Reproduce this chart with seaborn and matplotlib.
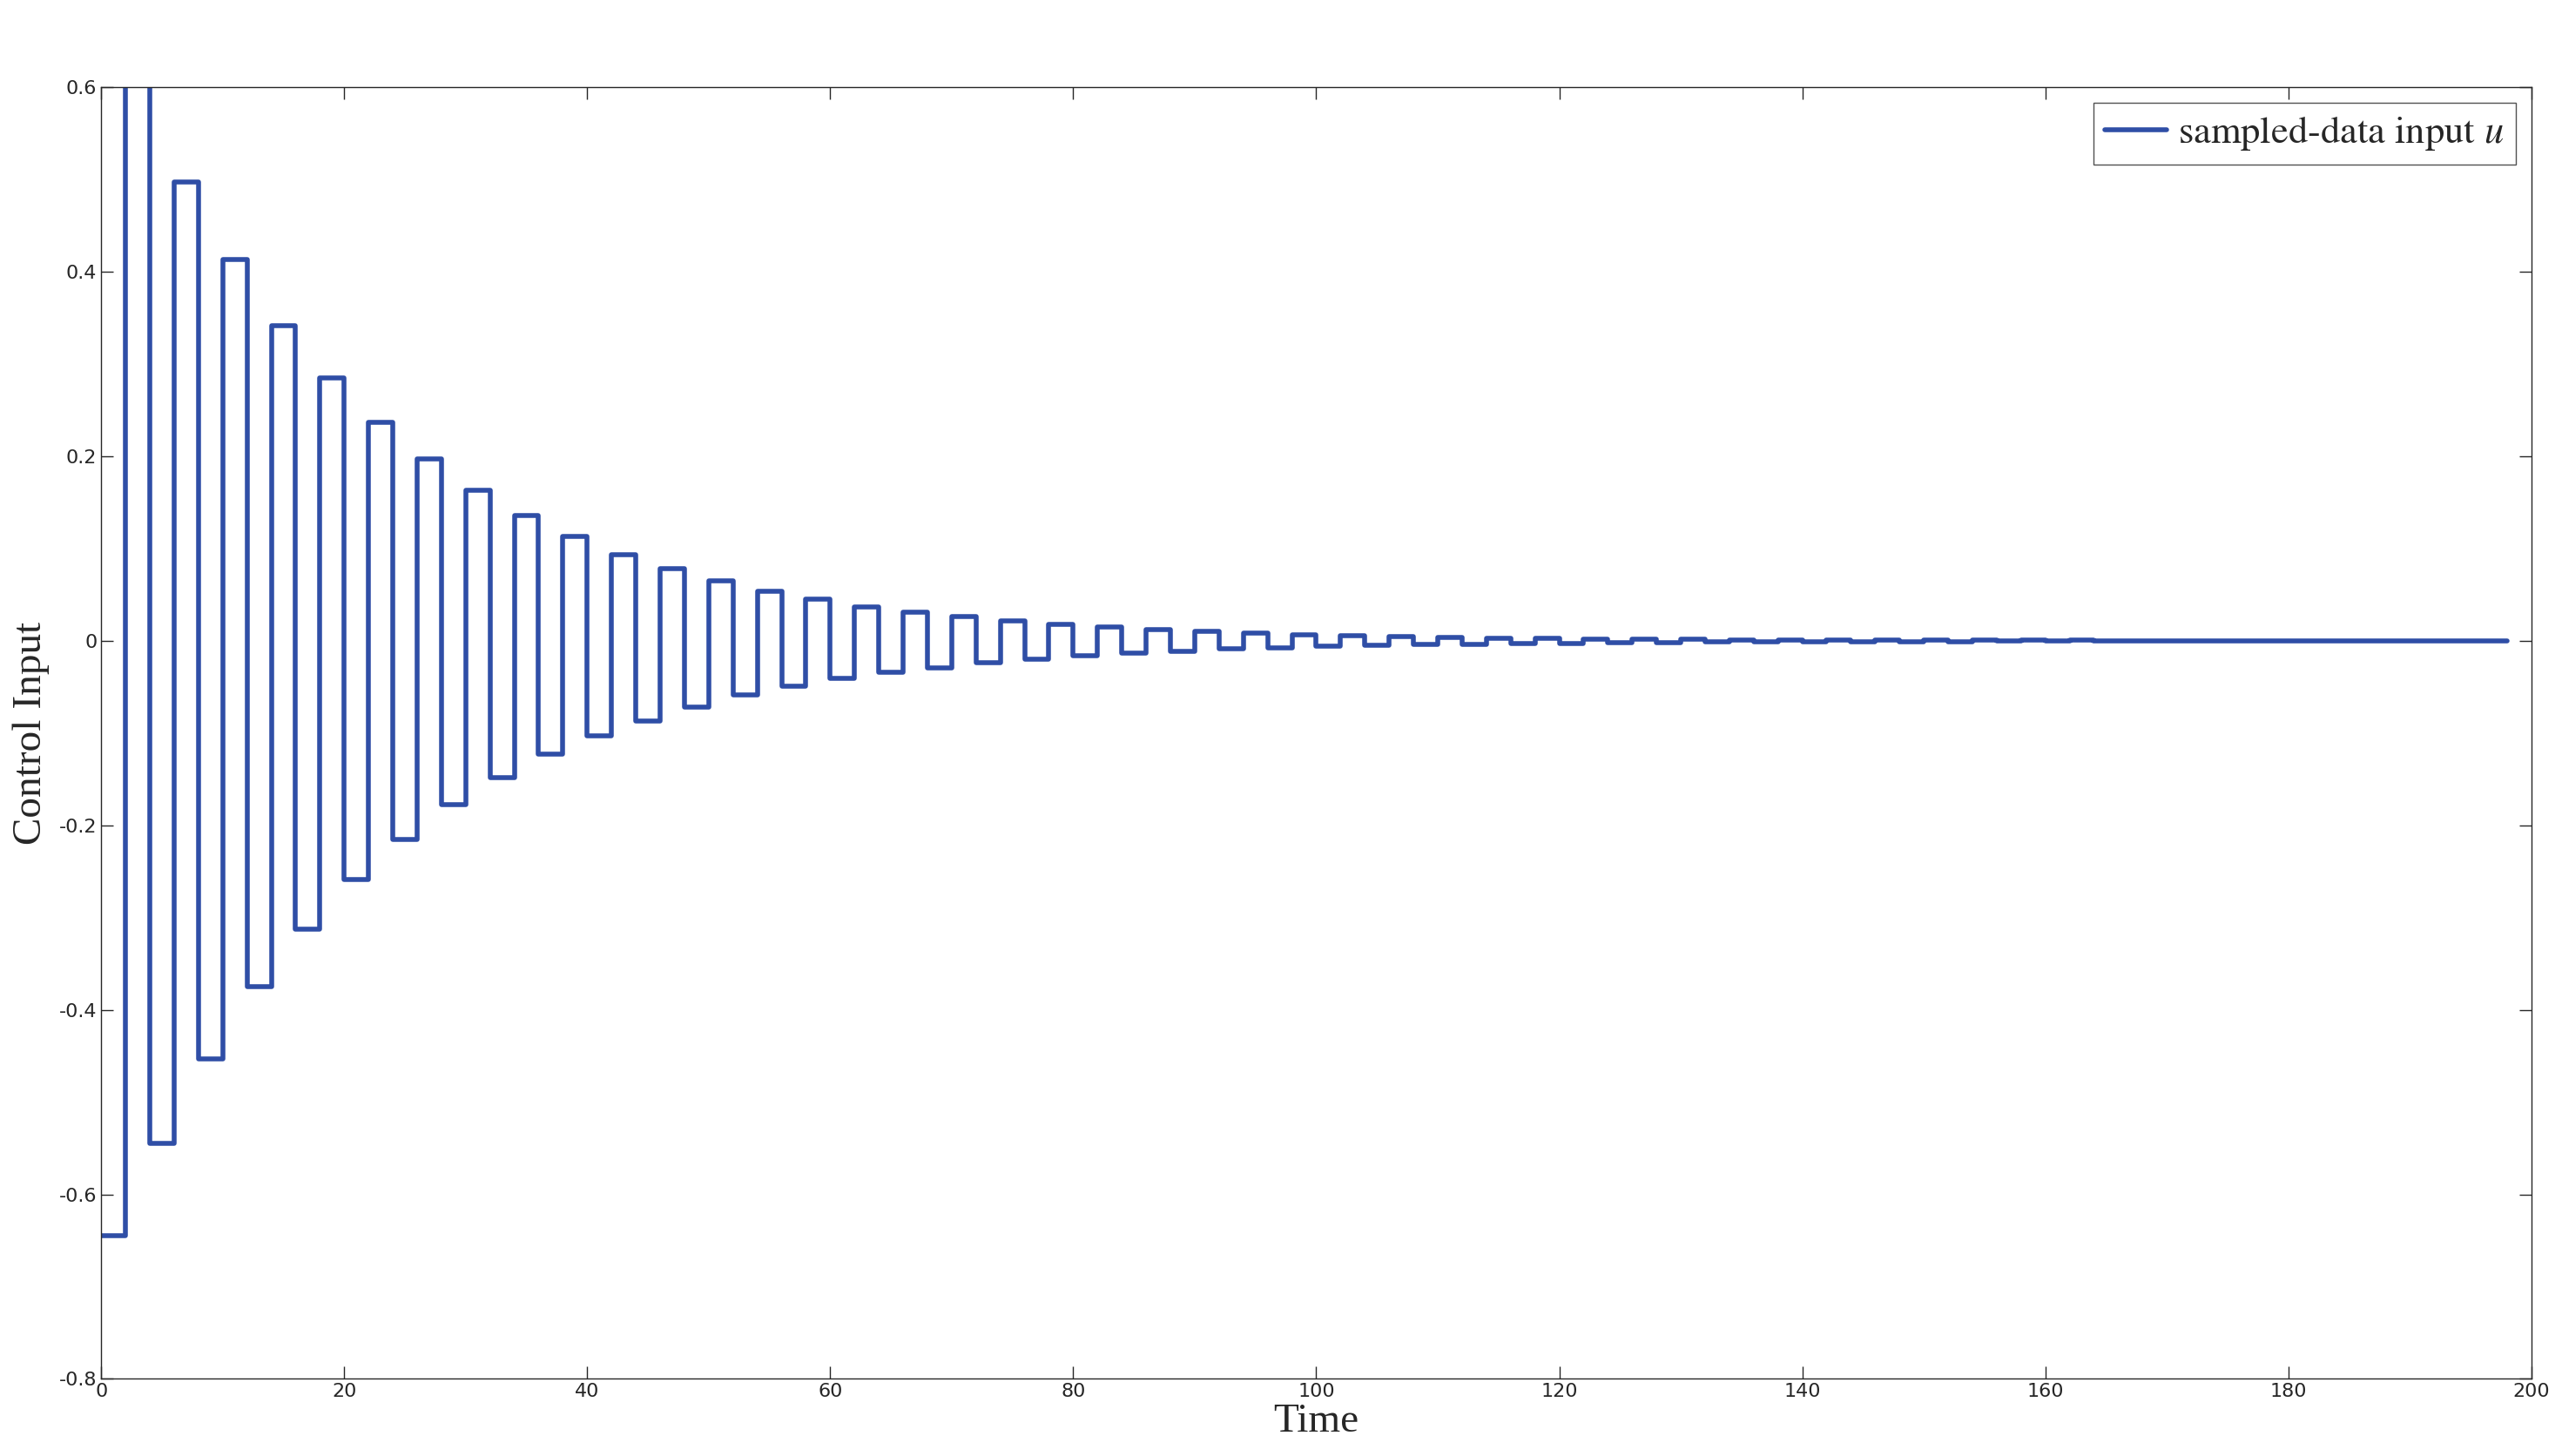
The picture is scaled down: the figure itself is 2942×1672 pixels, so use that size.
import numpy as np
import pandas as pd
import seaborn as sns
import matplotlib.pyplot as plt

# Sample period 2, values alternate sign
neg_vals = [-0.645, -0.545, -0.453, -0.375, -0.313, -0.259, -0.215, -0.178, -0.148, -0.123,
            -0.103, -0.087, -0.072, -0.059, -0.049, -0.041, -0.034, -0.029, -0.024, -0.020,
            -0.016, -0.013, -0.011, -0.009, -0.0075, -0.0062, -0.0052, -0.0043, -0.0036, -0.0030,
            -0.0025, -0.0021, -0.0017, -0.0014, -0.0012, -0.0010, -0.0008, -0.0007, -0.0006, -0.0005,
            -0.0004, -0.0003, -0.0003, -0.0002, -0.0002, -0.0001, -0.0001, -0.0001, -0.0001, 0.0]
pos_vals = [0.602, 0.497, 0.413, 0.342, 0.285, 0.237, 0.197, 0.163, 0.136, 0.113,
            0.093, 0.078, 0.065, 0.054, 0.045, 0.037, 0.031, 0.026, 0.022, 0.018,
            0.015, 0.012, 0.010, 0.008, 0.0068, 0.0056, 0.0047, 0.0039, 0.0032, 0.0027,
            0.0022, 0.0019, 0.0015, 0.0013, 0.0011, 0.0009, 0.0007, 0.0006, 0.0005, 0.0004,
            0.0004, 0.0003, 0.0002, 0.0002, 0.0002, 0.0001, 0.0001, 0.0001, 0.0001]
sample_period = 2
t_end = 198

u = []
for i in range(len(neg_vals)):
    u.append(neg_vals[i])
    if i < len(pos_vals):
        u.append(pos_vals[i])
t = [i * sample_period for i in range(len(u))]
# hold last value until the end of the run
t.append(t_end)
u.append(u[-1])
df = pd.DataFrame({"Time": t, "u": u})

sns.set_theme(style="white")
plt.rcParams["mathtext.fontset"] = "stix"

fig = plt.figure(figsize=(29.42, 16.72), dpi=100)
ax = fig.add_axes([0.0395, 0.053, 0.9485, 0.887])
sns.lineplot(data=df, x="Time", y="u", drawstyle="steps-post", color="#2f4ea6",
             linewidth=4, label=r"sampled-data input $u$", ax=ax)

ax.set_xlim(0, 200)
ax.set_ylim(-0.8, 0.6)
ax.set_xticks(np.arange(0, 201, 20))
ax.set_yticks(np.arange(-0.8, 0.61, 0.2))
ax.set_yticklabels(["-0.8", "-0.6", "-0.4", "-0.2", "0", "0.2", "0.4", "0.6"])
ax.tick_params(direction="in", length=10, width=1, labelsize=16, colors="#262626",
               top=True, right=True, bottom=True, left=True)
for s in ax.spines.values():
    s.set_color("#262626")
    s.set_linewidth(1)
ax.set_xlabel("Time", family="Liberation Serif", fontsize=34, color="#262626", labelpad=2)
ax.set_ylabel("Control Input", family="Liberation Serif", fontsize=34, color="#262626", labelpad=8)

leg = ax.legend(loc="upper right", fontsize=32, prop={"family": "STIXGeneral", "size": 32},
                frameon=True, fancybox=False, edgecolor="#262626", borderaxespad=0.4,
                handlelength=1.6, handletextpad=0.3, borderpad=0.3)
leg.get_frame().set_linewidth(1)

fig.savefig("out.png", dpi=100)
